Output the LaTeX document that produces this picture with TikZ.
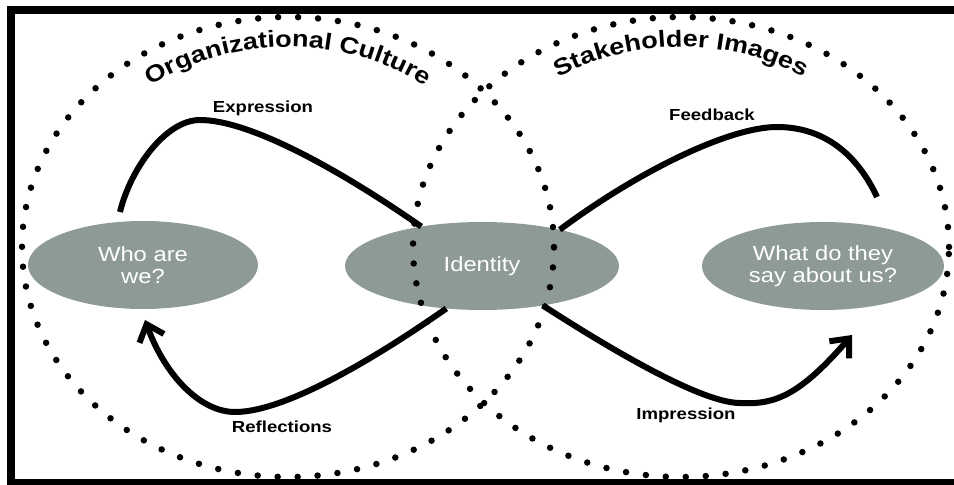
\documentclass[tikz,border=0pt]{standalone}
\usepackage{fontspec}
\usepackage{tikz}
\usetikzlibrary{shapes.geometric,arrows.meta,decorations.text}
\newfontfamily\widesans[FakeStretch=1.16]{Liberation Sans}
\definecolor{blobgray}{RGB}{142,154,152}

\tikzset{
  blob/.style={ellipse, fill=blobgray, text=white, inner sep=0pt, outer sep=0pt,
    minimum height=88pt, align=center, font=\widesans\fontsize{20.5}{22}\selectfont},
  loopline/.style={line width=6pt},
  tipped/.style={loopline, -{Straight Barb[length=15pt,width=26pt]}},
  dotring/.style={line width=6.5pt, line cap=round, dash pattern=on 0pt off 20pt},
  flowlabel/.style={font=\widesans\bfseries\fontsize{16}{16}\selectfont},
}

\begin{document}
\begin{tikzpicture}[x=1pt, y=1pt]
  \useasboundingbox (0,0) rectangle (954,485);
  \clip (0,0) rectangle (954,485);
  \draw[line width=8pt] (11,2) rectangle (970,475);

  \node[blob, minimum width=230pt] (who) at (143,220) {Who are\\we?};
  \node[blob, minimum width=274pt] (identity) at (482,219) {Identity};
  \node[blob, minimum width=242pt] (what) at (823,219) {What do they\\say about us?};

  \coordinate (expr_start) at (120,273);
  \coordinate (impr_tip) at (852,150);
  \coordinate (fb_start) at (877,288);
  \coordinate (refl_tip) at (145,165);

  % upper left and lower right halves of the loop
  \draw[loopline] (expr_start) .. controls (130,315) and (165,365) .. (200,365)
      .. controls (250,365) and (340,315) .. (identity.147);
  \draw[tipped] (identity.327) .. controls (604,140) and (700,82) .. (740,82)
      .. controls (775,80) and (800,90) .. (impr_tip);
  % upper right and lower left halves
  \draw[loopline] (fb_start) .. controls (855,335) and (820,358) .. (777,358)
      .. controls (730,358) and (640,315) .. (identity.25);
  \draw[tipped] (identity.230) .. controls (390,137) and (290,73) .. (235,73)
      .. controls (200,73) and (165,110) .. (refl_tip);

  % the two dotted rings
  \draw[dotring] (288,238) ellipse [x radius=266, y radius=230];
  \draw[dotring] (681,238) ellipse [x radius=268, y radius=230];

  \path[decorate, decoration={text along path, text align=center,
      text={|\widesans\bfseries\fontsize{23.3}{24}\selectfont|Organizational Culture}}]
    ([shift={(150:232 and 200)}]288,238) arc [start angle=150, end angle=30, x radius=232, y radius=200];
  \path[decorate, decoration={text along path, text align=center,
      text={|\widesans\bfseries\fontsize{23.3}{24}\selectfont|Stakeholder Images}}]
    ([shift={(150:232 and 200)}]681,238) arc [start angle=150, end angle=30, x radius=232, y radius=200];

  \node[flowlabel] (expression) at (263,377) {Expression};
  \node[flowlabel] (feedback) at (712,370) {Feedback};
  \node[flowlabel] (reflections) at (282,58) {Reflections};
  \node[flowlabel] (impression) at (686,70) {Impression};
\end{tikzpicture}
\end{document}
